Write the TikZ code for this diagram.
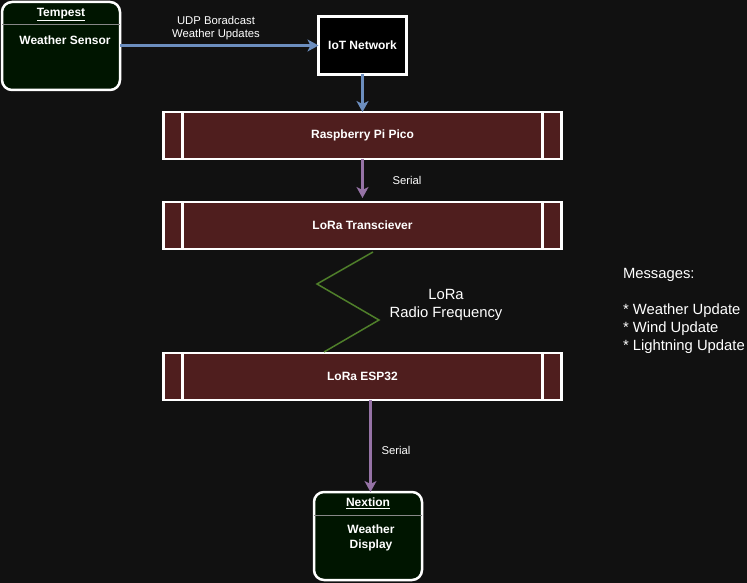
\documentclass[tikz,border=0pt]{standalone}
\usepackage{fontspec}
\setmainfont{Liberation Sans}
\usetikzlibrary{arrows.meta,calc}
\definecolor{bg}{HTML}{111111}
\definecolor{procfill}{HTML}{4F1E1E}
\definecolor{grnfill}{HTML}{001500}
\definecolor{bluearr}{HTML}{6C8EBF}
\definecolor{purparr}{HTML}{9673A6}
\definecolor{zig}{HTML}{4F7F2A}
\definecolor{divgray}{HTML}{888888}
\begin{document}
\begin{tikzpicture}[x=1pt,y=-1pt,
  every node/.style={inner sep=0pt, outer sep=0pt, text=white},
  bt/.style={font=\bfseries\fontsize{12}{15}\selectfont},
  proc/.style={draw=white, fill=procfill, line width=2.5pt, minimum width=398pt, minimum height=47pt, bt},
  actor/.style={draw=white, fill=grnfill, line width=2.5pt, rounded corners=10pt},
  conn/.style={line width=2.5pt},
  tip/.style={-{Stealth[length=11pt,width=12pt,inset=3pt]}},
  lbl/.style={font=\fontsize{11.3}{13}\selectfont, align=center},
  big/.style={font=\fontsize{14.8}{18}\selectfont, align=left}
]
\path[fill=bg] (0,0) rectangle (747,583);

% Tempest
\node[actor, minimum width=118pt, minimum height=88pt] (tempest) at (61,46) {};
\draw[divgray, line width=1pt] ($(tempest.west)+(0,-21)$) coordinate (tdl) -- ($(tempest.east)+(0,-21)$) coordinate (tdr);
\node[bt, anchor=base] (tempestt) at (61,16.5) {\underline{Tempest}};
\node[bt] (tempests) at (65,40) {Weather Sensor};

% IoT network
\node[draw=white, fill=black, line width=3pt, minimum width=88pt, minimum height=58pt, bt] (iot) at (362.5,45.5) {IoT Network};

% process boxes
\node[proc] (pico) at (362.5,135.5) {Raspberry Pi Pico};
\node[proc] (lora) at (362.5,225.5) {LoRa Transciever};
\node[proc] (esp) at (362.5,376.5) {LoRa ESP32};
\foreach \b in {pico,lora,esp}{
  \draw[white, line width=2.5pt] ($(\b.north west)+(19,0)$) -- ($(\b.south west)+(19,0)$);
  \draw[white, line width=2.5pt] ($(\b.north east)+(-19,0)$) -- ($(\b.south east)+(-19,0)$);
}

% Nextion
\node[actor, minimum width=108pt, minimum height=88pt] (nextion) at (368,536) {};
\draw[divgray, line width=1pt] ($(nextion.west)+(0,-21)$) coordinate (ndl) -- ($(nextion.east)+(0,-21)$) coordinate (ndr);
\node[bt, anchor=base] (nextiont) at (368,506.5) {\underline{Nextion}};
\node[bt, align=center, font=\bfseries\fontsize{12}{15.5}\selectfont] (nextions) at (371,538) {Weather\\Display};

% connectors
\draw[conn, tip, bluearr] (tempest.east |- iot.west) -- (iot.west);
\node[lbl] (udp) at (216,28) {UDP Boradcast\\Weather Updates};
\draw[conn, tip, bluearr] (iot.south) -- (pico.north);
\draw[conn, tip, purparr] (pico.south) -- ($(lora.north)+(0,-4)$) coordinate (loratop);
\node[lbl] (ser1) at (407,180) {Serial};
\coordinate (z1) at (373,252);
\coordinate (z2) at (317,284);
\coordinate (z3) at (379,320);
\coordinate (z4) at (324,352);
\draw[zig, line width=1.5pt] (z1) -- (z2) -- (z3) -- (z4);
\node[big, align=center] (rf) at (446,305) {LoRa\\Radio Frequency};
\draw[conn, tip, purparr] ($(esp.south)+(8,0)$) coordinate (espb) -- (nextion.north -| espb);
\node[lbl] (ser2) at (396,450) {Serial};

% messages
\node[big, anchor=north west] (msg) at (623,268) {Messages:\\[18pt]* Weather Update\\* Wind Update\\* Lightning Update};
\end{tikzpicture}
\end{document}
